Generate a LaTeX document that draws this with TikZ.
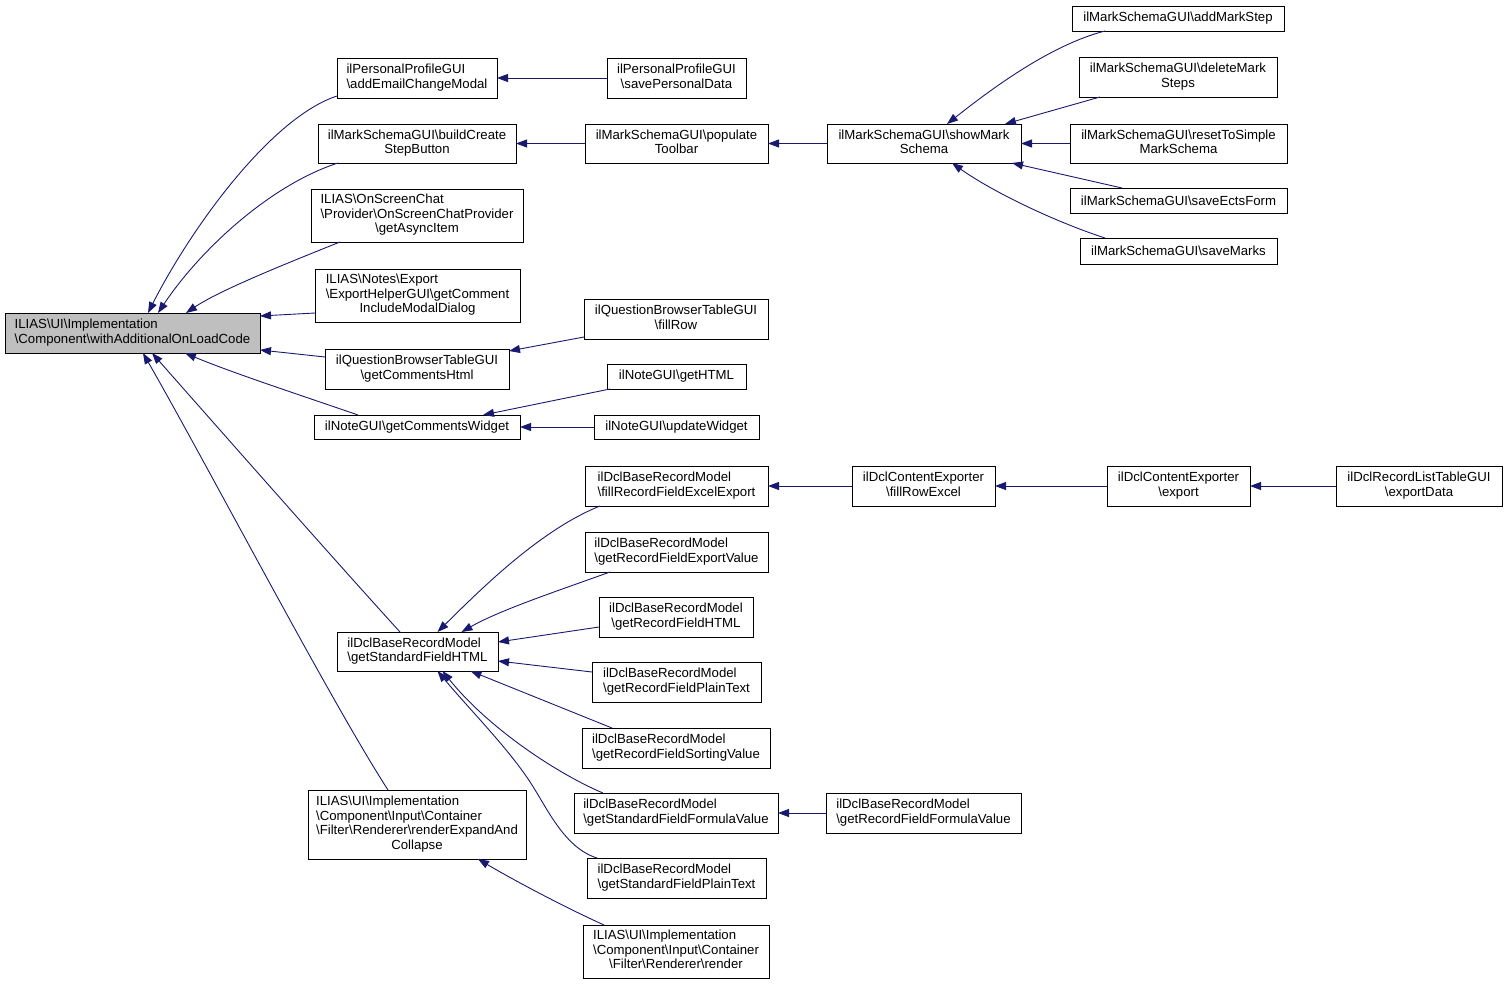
\documentclass[tikz,border=0pt]{standalone}
\usepackage{fontspec}
\setmainfont{Liberation Sans}
\usetikzlibrary{arrows.meta,calc}
\definecolor{edgeblue}{RGB}{25,25,112}
\definecolor{rootgray}{RGB}{191,191,191}
\newcommand\bs{\textbackslash}
\newcommand\C[1]{\multicolumn{1}{@{}c@{}}{#1}}
\newcommand\bx[7][]{\node[box,#1,minimum width={(#4-#2)*1pt},minimum height={(#5-#3)*1pt}] (#6) at ({(#2+#4)/2},{(#3+#5)/2}) {#7};}
\tikzset{
  box/.style={draw=black,line width=1pt,fill=white,inner sep=0pt,outer sep=0pt,
    font=\fontsize{13.2}{14.5}\selectfont},
  edge/.style={draw=edgeblue,line width=0.9pt,-{Triangle[length=11pt,width=8pt]}}
}
\begin{document}
\begin{tikzpicture}[x=1pt,y=-1pt]
\useasboundingbox (0,0) rectangle (1508,985);
% nodes
\bx[fill=rootgray]{5}{313}{260}{353}{root}{\begin{tabular}{@{}l@{}}ILIAS\bs{}UI\bs{}Implementation\\\bs{}Component\bs{}withAdditionalOnLoadCode\end{tabular}}
\bx{337}{58}{497}{98}{addEmail}{\begin{tabular}{@{}l@{}}ilPersonalProfileGUI\\\bs{}addEmailChangeModal\end{tabular}}
\bx{607}{58}{746}{98}{savePD}{\begin{tabular}{@{}c@{}}ilPersonalProfileGUI\\\bs{}savePersonalData\end{tabular}}
\bx{318}{124}{516}{163}{buildCreate}{\begin{tabular}{@{}c@{}}ilMarkSchemaGUI\bs{}buildCreate\\StepButton\end{tabular}}
\bx{585}{124}{768}{163}{populate}{\begin{tabular}{@{}c@{}}ilMarkSchemaGUI\bs{}populate\\Toolbar\end{tabular}}
\bx{827}{124}{1021}{163}{showMark}{\begin{tabular}{@{}c@{}}ilMarkSchemaGUI\bs{}showMark\\Schema\end{tabular}}
\bx{1072}{6}{1284}{31}{addMarkStep}{ilMarkSchemaGUI\bs{}addMarkStep}
\bx{1079}{57}{1277}{97}{deleteMark}{\begin{tabular}{@{}c@{}}ilMarkSchemaGUI\bs{}deleteMark\\Steps\end{tabular}}
\bx{1070}{124}{1287}{163}{resetSimple}{\begin{tabular}{@{}c@{}}ilMarkSchemaGUI\bs{}resetToSimple\\MarkSchema\end{tabular}}
\bx{1070}{188}{1287}{213}{saveEcts}{ilMarkSchemaGUI\bs{}saveEctsForm}
\bx{1080}{238}{1277}{264}{saveMarks}{ilMarkSchemaGUI\bs{}saveMarks}
\bx{311}{189}{523}{242}{asyncItem}{\begin{tabular}{@{}l@{}}ILIAS\bs{}OnScreenChat\\\bs{}Provider\bs{}OnScreenChatProvider\\\C{\bs{}getAsyncItem}\end{tabular}}
\bx{315}{269}{520}{322}{commentModal}{\begin{tabular}{@{}l@{}}ILIAS\bs{}Notes\bs{}Export\\\bs{}ExportHelperGUI\bs{}getComment\\\C{IncludeModalDialog}\end{tabular}}
\bx{325}{349}{509}{389}{commentsHtml}{\begin{tabular}{@{}c@{}}ilQuestionBrowserTableGUI\\\bs{}getCommentsHtml\end{tabular}}
\bx{584}{299}{768}{339}{fillRow}{\begin{tabular}{@{}c@{}}ilQuestionBrowserTableGUI\\\bs{}fillRow\end{tabular}}
\bx{314}{415}{520}{439}{commentsWidget}{ilNoteGUI\bs{}getCommentsWidget}
\bx{607}{364}{746}{389}{noteHTML}{ilNoteGUI\bs{}getHTML}
\bx{594}{415}{759}{439}{updateWidget}{ilNoteGUI\bs{}updateWidget}
\bx{585}{466}{768}{506}{fillExcel}{\begin{tabular}{@{}l@{}}ilDclBaseRecordModel\\\bs{}fillRecordFieldExcelExport\end{tabular}}
\bx{852}{466}{995}{506}{fillRowExcel}{\begin{tabular}{@{}c@{}}ilDclContentExporter\\\bs{}fillRowExcel\end{tabular}}
\bx{1107}{466}{1250}{506}{export}{\begin{tabular}{@{}c@{}}ilDclContentExporter\\\bs{}export\end{tabular}}
\bx{1336}{466}{1502}{506}{exportData}{\begin{tabular}{@{}c@{}}ilDclRecordListTableGUI\\\bs{}exportData\end{tabular}}
\bx{585}{532}{768}{572}{exportValue}{\begin{tabular}{@{}l@{}}ilDclBaseRecordModel\\\bs{}getRecordFieldExportValue\end{tabular}}
\bx{599}{597}{753}{637}{recordHTML}{\begin{tabular}{@{}c@{}}ilDclBaseRecordModel\\\bs{}getRecordFieldHTML\end{tabular}}
\bx{337}{632}{498}{671}{stdHTML}{\begin{tabular}{@{}l@{}}ilDclBaseRecordModel\\\bs{}getStandardFieldHTML\end{tabular}}
\bx{592}{662}{761}{702}{plainText}{\begin{tabular}{@{}l@{}}ilDclBaseRecordModel\\\bs{}getRecordFieldPlainText\end{tabular}}
\bx{582}{728}{770}{768}{sorting}{\begin{tabular}{@{}l@{}}ilDclBaseRecordModel\\\bs{}getRecordFieldSortingValue\end{tabular}}
\bx{574}{793}{778}{833}{stdFormula}{\begin{tabular}{@{}l@{}}ilDclBaseRecordModel\\\bs{}getStandardFieldFormulaValue\end{tabular}}
\bx{826}{793}{1021}{833}{recFormula}{\begin{tabular}{@{}l@{}}ilDclBaseRecordModel\\\bs{}getRecordFieldFormulaValue\end{tabular}}
\bx{587}{858}{766}{898}{stdPlain}{\begin{tabular}{@{}l@{}}ilDclBaseRecordModel\\\bs{}getStandardFieldPlainText\end{tabular}}
\bx{308}{790}{526}{859}{renderEC}{\begin{tabular}{@{}l@{}}ILIAS\bs{}UI\bs{}Implementation\\\bs{}Component\bs{}Input\bs{}Container\\\bs{}Filter\bs{}Renderer\bs{}renderExpandAnd\\\C{Collapse}\end{tabular}}
\bx{583}{925}{769}{978}{render}{\begin{tabular}{@{}l@{}}ILIAS\bs{}UI\bs{}Implementation\\\bs{}Component\bs{}Input\bs{}Container\\\C{\bs{}Filter\bs{}Renderer\bs{}render}\end{tabular}}
% edges into root
\draw[edge] ($(addEmail.south west)+(0,-2)$) .. controls (270,118) and (190,230) .. ($(root.north)+(15.5,0)$);
\draw[edge] ($(buildCreate.south west)+(20,0)$) .. controls (270,185) and (200,250) .. ($(root.north)+(25.5,0)$);
\draw[edge] ($(asyncItem.south west)+(29,0)$) .. controls (290,262) and (220,290) .. ($(root.north)+(53.5,0)$);
\draw[edge] ($(commentModal.south west)+(0,-9)$) -- ($(root.east)+(0,-17)$);
\draw[edge] ($(commentsHtml.north west)+(0,8)$) -- ($(root.east)+(0,17)$);
\draw[edge] ($(commentsWidget.north west)+(44,0)$) .. controls (300,395) and (230,372) .. ($(root.south)+(52.5,0)$);
\draw[edge] ($(stdHTML.north west)+(63,0)$) .. controls (330,555) and (220,430) .. ($(root.south)+(19.5,0)$);
\draw[edge] ($(renderEC.north west)+(80,0)$) .. controls (330,700) and (210,470) .. ($(root.south)+(10.5,0)$);
% top chains
\draw[edge] (savePD.west) -- (addEmail.east);
\draw[edge] (populate.west) -- (buildCreate.east);
\draw[edge] (showMark.west) -- (populate.east);
\draw[edge] ($(addMarkStep.south west)+(33,0)$) .. controls (1050,45) and (990,90) .. ($(showMark.north)+(23,0)$);
\draw[edge] ($(deleteMark.south west)+(21,0)$) -- ($(showMark.north east)+(-16,0)$);
\draw[edge] (resetSimple.west) -- (showMark.east);
\draw[edge] ($(saveEcts.north west)+(52,0)$) -- ($(showMark.south east)+(-9,0)$);
\draw[edge] ($(saveMarks.north west)+(25,0)$) .. controls (1050,220) and (990,190) .. ($(showMark.south)+(28,0)$);
% notes
\draw[edge] ($(fillRow.south west)+(0,-2)$) -- ($(commentsHtml.north east)+(0,2)$);
\draw[edge] ($(noteHTML.south west)+(3,0)$) -- ($(commentsWidget.north east)+(-37,0)$);
\draw[edge] (updateWidget.west) -- (commentsWidget.east);
% dcl
\draw[edge] ($(fillExcel.south west)+(15,0)$) .. controls (540,530) and (480,590) .. ($(stdHTML.north)+(20,0)$);
\draw[edge] (fillRowExcel.west) -- (fillExcel.east);
\draw[edge] (export.west) -- (fillRowExcel.east);
\draw[edge] (exportData.west) -- (export.east);
\draw[edge] ($(exportValue.south west)+(25,0)$) .. controls (560,590) and (500,610) .. ($(stdHTML.north)+(44,0)$);
\draw[edge] ($(recordHTML.west)+(0,10)$) -- ($(stdHTML.east)+(0,-9.5)$);
\draw[edge] ($(plainText.west)+(0,-10)$) -- ($(stdHTML.east)+(0,9.5)$);
\draw[edge] ($(sorting.north west)+(30,0)$) -- ($(stdHTML.south)+(53,0)$);
\draw[edge] ($(stdFormula.north west)+(29,0)$) .. controls (560,775) and (490,730) .. ($(stdHTML.south)+(25,0)$);
\draw[edge] ($(stdPlain.north west)+(10,0)$) .. controls (565,848) and (548,810) .. (532,785) .. controls (510,750) and (470,710) .. ($(stdHTML.south)+(20,0)$);
\draw[edge] (recFormula.west) -- (stdFormula.east);
\draw[edge] ($(render.north west)+(21,0)$) .. controls (560,905) and (510,878) .. ($(renderEC.south)+(61,0)$);
\end{tikzpicture}
\end{document}
